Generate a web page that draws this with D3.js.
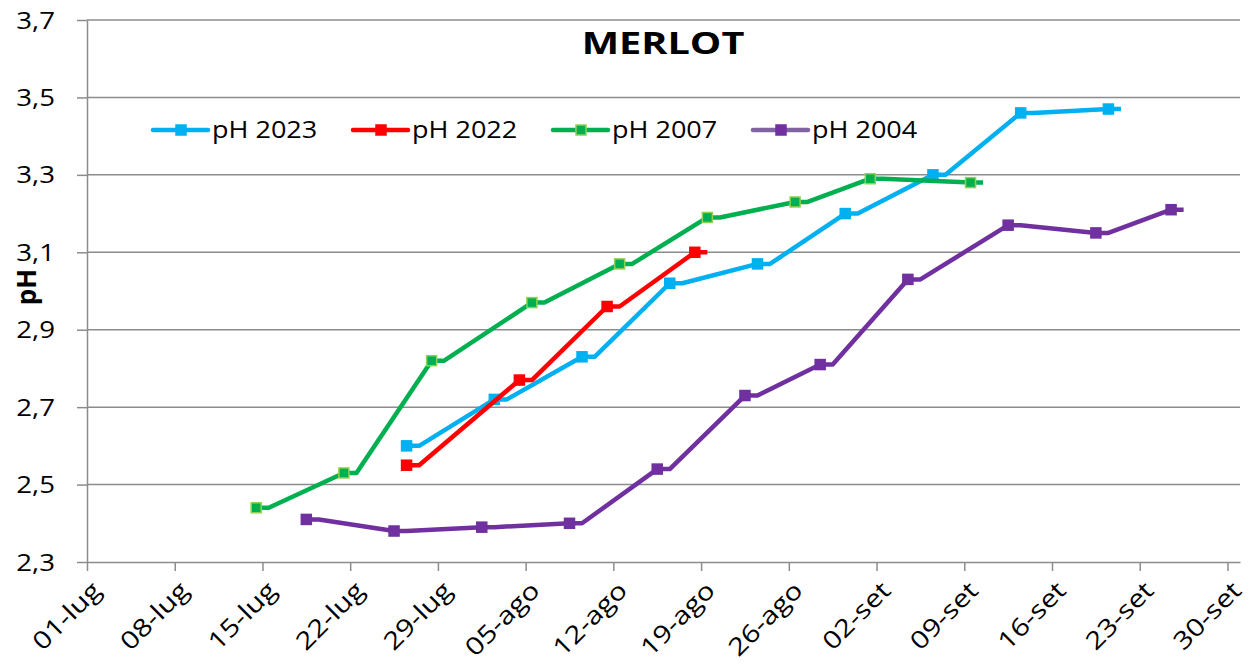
<!DOCTYPE html>
<html>
<head>
<meta charset="utf-8">
<script src="https://cdn.jsdelivr.net/npm/d3@7/dist/d3.min.js"></script>
<style>
  body { margin: 0; background: #fff; }
  svg text { font-family: 'Open Sans', sans-serif; fill: #000; }
</style>
</head>
<body>
<svg id="chart" width="1250" height="668"></svg>
<script>
// months used by the date labels (Italian)
const monthNames = ['gen', 'feb', 'mar', 'apr', 'mag', 'giu', 'lug', 'ago', 'set', 'ott', 'nov', 'dic'];
const yTicks = [2.3, 2.5, 2.7, 2.9, 3.1, 3.3, 3.5, 3.7];

const days2023 = ['27/07', '03/08', '10/08', '17/08', '24/08', '31/08', '07/09', '14/09', '21/09'];
const ph2023 = [2.60, 2.72, 2.83, 3.02, 3.07, 3.20, 3.30, 3.46, 3.47];

const days2022 = ['27/07', '05/08', '12/08', '19/08'];
const ph2022 = [2.55, 2.77, 2.96, 3.10];

const days2007 = ['15/07', '22/07', '29/07', '06/08', '13/08', '20/08', '27/08', '02/09', '10/09'];
const ph2007 = [2.44, 2.53, 2.82, 2.97, 3.07, 3.19, 3.23, 3.29, 3.28];

const days2004 = ['19/07', '26/07', '02/08', '09/08', '16/08', '23/08', '29/08', '05/09', '13/09', '20/09', '26/09'];
const ph2004 = [2.41, 2.38, 2.39, 2.40, 2.54, 2.73, 2.81, 3.03, 3.17, 3.15, 3.21];

const seriesNames = ['pH 2023', 'pH 2022', 'pH 2007', 'pH 2004'];

const parseDay = d3.timeParse('%d/%m/%Y');
const toDate = function (s) { return parseDay(s + '/2023'); };

const series = [
  {name: seriesNames[0], days: days2023, values: ph2023, line: '#00b0f0', fill: '#00b0f0', stroke: '#00b0f0', legendLine: '#00b0f0'},
  {name: seriesNames[1], days: days2022, values: ph2022, line: '#ff0000', fill: '#ff0000', stroke: '#ff0000', legendLine: '#ff0000'},
  {name: seriesNames[2], days: days2007, values: ph2007, line: '#00b050', fill: '#00b050', stroke: '#92d050', legendLine: '#00b050'},
  {name: seriesNames[3], days: days2004, values: ph2004, line: '#7030a0', fill: '#7030a0', stroke: '#7030a0', legendLine: '#8064a2'}
].map(function (s) {
  return Object.assign(s, {
    points: s.days.map(function (d, i) { return {date: toDate(d), v: s.values[i]}; })
  });
});

const svg = d3.select('#chart');
const margin = {left: 87, right: 1240, top: 20, bottom: 562};
const sx = 1.2; // the original picture is stretched horizontally

const x = d3.scaleTime().domain([toDate('01/07'), toDate('01/10')]).range([margin.left, margin.right]);
const y = d3.scaleLinear().domain([2.3, 3.7]).range([margin.bottom, margin.top]);
const halfDay = (x(toDate('02/07')) - x(toDate('01/07'))) / 2;

const fmtDay = function (d) {
  return d3.timeFormat('%d')(d) + '-' + monthNames[d.getMonth()];
};
const fmtPh = function (v) {
  return d3.format('.1f')(v).replace('.', ',');
};

// grid
svg.append('g')
  .selectAll('line')
  .data(yTicks.slice(1))
  .enter().append('line')
  .attr('x1', margin.left).attr('x2', margin.right)
  .attr('y1', function (d) { return y(d); })
  .attr('y2', function (d) { return y(d); })
  .attr('stroke', '#8c8c8c')
  .attr('stroke-width', 1.5);

// y axis
const yAxis = svg.append('g')
  .attr('transform', 'translate(' + margin.left + ',0)')
  .call(d3.axisLeft(y).tickValues(yTicks).tickSize(10).tickSizeOuter(0).tickFormat(fmtPh));
yAxis.select('.domain').attr('stroke', '#8c8c8c').attr('stroke-width', 1.5);
yAxis.selectAll('.tick line').attr('stroke', '#8c8c8c').attr('stroke-width', 1.5);
yAxis.selectAll('.tick text')
  .attr('x', null).attr('dy', null)
  .attr('transform', 'translate(-32,8) scale(' + sx + ',1)')
  .style('font-size', '23px');

// x axis
const tickDates = d3.timeDay.range(toDate('01/07'), toDate('01/10'), 7);
const xAxis = svg.append('g')
  .attr('transform', 'translate(0,' + margin.bottom + ')')
  .call(d3.axisBottom(x).tickValues(tickDates).tickSize(9).tickSizeOuter(0).tickFormat(fmtDay));
xAxis.select('.domain').attr('stroke', '#8c8c8c').attr('stroke-width', 1.5);
xAxis.selectAll('.tick line').attr('stroke', '#8c8c8c').attr('stroke-width', 1.5);
xAxis.selectAll('.tick text')
  .attr('y', null).attr('dy', null)
  .attr('text-anchor', 'end')
  .attr('transform', 'translate(15,30) rotate(-45) scale(' + sx + ',1)')
  .style('font-size', '24.5px');

// lines
const line = d3.line()
  .x(function (d) { return d[0]; })
  .y(function (d) { return d[1]; });

const g = svg.selectAll('.serie')
  .data(series)
  .enter().append('g')
  .attr('class', 'serie');

g.append('path')
  .attr('fill', 'none')
  .attr('stroke', function (d) { return d.line; })
  .attr('stroke-width', 4.5)
  .attr('stroke-linejoin', 'round')
  .attr('d', function (d) {
    const pts = [];
    d.points.forEach(function (p) {
      pts.push([x(p.date) - halfDay, y(p.v)]);
      pts.push([x(p.date) + halfDay, y(p.v)]);
    });
    return line(pts);
  });

g.selectAll('rect')
  .data(function (d) { return d.points.map(function (p) { return {p: p, s: d}; }); })
  .enter().append('rect')
  .attr('x', function (d) { return x(d.p.date) - halfDay - 5; })
  .attr('y', function (d) { return y(d.p.v) - 5; })
  .attr('width', 10).attr('height', 10)
  .attr('fill', function (d) { return d.s.fill; })
  .attr('stroke', function (d) { return d.s.stroke; })
  .attr('stroke-width', 1.5);

// title
svg.append('text')
  .attr('transform', 'translate(663,54) scale(1.28,1)')
  .attr('text-anchor', 'middle')
  .style('font-size', '31px')
  .style('font-weight', 'bold')
  .text('MERLOT');

// y axis title
svg.append('text')
  .attr('transform', 'translate(36,287) rotate(-90)')
  .attr('text-anchor', 'middle')
  .style('font-size', '26px')
  .style('font-weight', 'bold')
  .text('pH');

// legend
const legend = svg.selectAll('.legend')
  .data(series)
  .enter().append('g')
  .attr('class', 'legend')
  .attr('transform', function (d, i) { return 'translate(' + (153 + i * 200) + ',130)'; });

legend.append('line')
  .attr('x1', 0).attr('x2', 55)
  .attr('stroke', function (d) { return d.legendLine; })
  .attr('stroke-width', 4.5)
  .attr('stroke-linecap', 'round');

legend.append('rect')
  .attr('x', 23).attr('y', -5).attr('width', 10).attr('height', 10)
  .attr('fill', function (d) { return d.fill; })
  .attr('stroke', function (d) { return d.stroke; })
  .attr('stroke-width', 1.5);

legend.append('text')
  .attr('transform', 'translate(59,8) scale(1.15,1)')
  .style('font-size', '23.5px')
  .text(function (d) { return d.name; });
</script>
</body>
</html>
